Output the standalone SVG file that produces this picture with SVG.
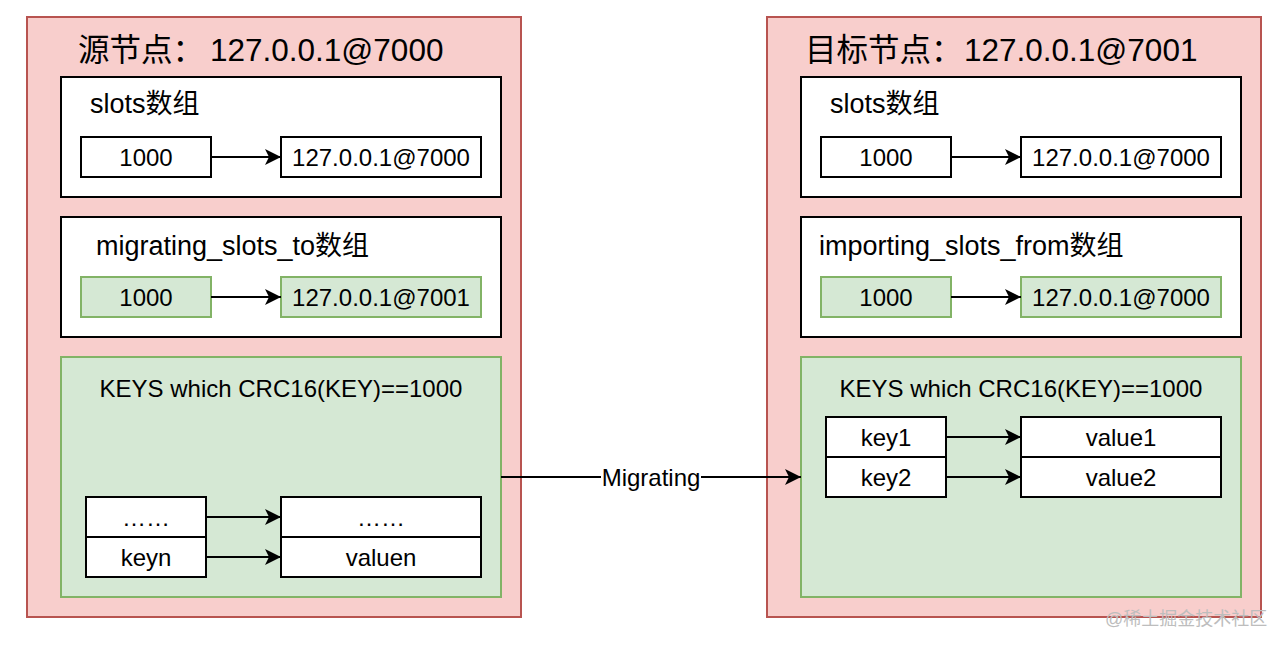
<svg xmlns="http://www.w3.org/2000/svg" width="1286" height="648" viewBox="0 0 1286 648">
<style>
text{font-family:"Liberation Sans","Noto Sans CJK SC",sans-serif;fill:#000}
.outer{fill:#f8cecc;stroke:#b85450;stroke-width:2}
.white{fill:#fff;stroke:#000;stroke-width:2}
.green{fill:#d5e8d4;stroke:#82b366;stroke-width:2}
.title{font-size:31.5px}
.lbl{font-size:27px}
.t{font-size:24px;text-anchor:middle}
.edge{stroke:#000;stroke-width:2;fill:none;marker-end:url(#arr)}
.wm{font-size:18px;fill:#bdbdbd}
</style>
<defs>
<marker id="arr" markerUnits="userSpaceOnUse" markerWidth="18" markerHeight="16" refX="16" refY="8" orient="auto">
<path d="M0,0 L16,8 L0,16 L4,8 z" fill="#000"/>
</marker>
</defs>
<g id="source-node">
<rect class="outer" x="27" y="17" width="494" height="600"/>
<text class="title" x="78" y="61">源节点：<tspan x="210">127.0.0.1@7000</tspan></text>
</g>
<g id="src-slots">
<rect class="white" x="61" y="77" width="440" height="120"/>
<text class="lbl" x="90" y="113">slots数组</text>
</g>
<g id="src-slots-k"><rect class="white" x="81" y="137" width="130" height="40"/><text class="t" x="146" y="166">1000</text></g>
<g id="src-slots-v"><rect class="white" x="281" y="137" width="200" height="40"/><text class="t" x="381" y="166">127.0.0.1@7000</text></g>
<g id="src-migrating">
<rect class="white" x="61" y="217" width="440" height="120"/>
<text class="lbl" x="96" y="255">migrating_slots_to数组</text>
</g>
<g id="src-mig-k"><rect class="green" x="81" y="277" width="130" height="40"/><text class="t" x="146" y="306">1000</text></g>
<g id="src-mig-v"><rect class="green" x="281" y="277" width="200" height="40"/><text class="t" x="381" y="306">127.0.0.1@7001</text></g>
<g id="src-keys">
<rect class="green" x="61" y="357" width="440" height="240"/>
<text class="t" x="281" y="397">KEYS which CRC16(KEY)==1000</text>
</g>
<g id="src-k-dots"><rect class="white" x="86" y="497" width="120" height="40"/><text class="t" x="146" y="526">……</text></g>
<g id="src-k-n"><rect class="white" x="86" y="537" width="120" height="40"/><text class="t" x="146" y="566">keyn</text></g>
<g id="src-v-dots"><rect class="white" x="281" y="497" width="200" height="40"/><text class="t" x="381" y="526">……</text></g>
<g id="src-v-n"><rect class="white" x="281" y="537" width="200" height="40"/><text class="t" x="381" y="566">valuen</text></g>

<g id="target-node">
<rect class="outer" x="767" y="17" width="494" height="600"/>
<text class="title" x="805" y="61">目标节点：<tspan x="964">127.0.0.1@7001</tspan></text>
</g>
<g id="tgt-slots">
<rect class="white" x="801" y="77" width="440" height="120"/>
<text class="lbl" x="830" y="113">slots数组</text>
</g>
<g id="tgt-slots-k"><rect class="white" x="821" y="137" width="130" height="40"/><text class="t" x="886" y="166">1000</text></g>
<g id="tgt-slots-v"><rect class="white" x="1021" y="137" width="200" height="40"/><text class="t" x="1121" y="166">127.0.0.1@7000</text></g>
<g id="tgt-importing">
<rect class="white" x="801" y="217" width="440" height="120"/>
<text class="lbl" x="819" y="255">importing_slots_from数组</text>
</g>
<g id="tgt-imp-k"><rect class="green" x="821" y="277" width="130" height="40"/><text class="t" x="886" y="306">1000</text></g>
<g id="tgt-imp-v"><rect class="green" x="1021" y="277" width="200" height="40"/><text class="t" x="1121" y="306">127.0.0.1@7000</text></g>
<g id="tgt-keys">
<rect class="green" x="801" y="357" width="440" height="240"/>
<text class="t" x="1021" y="397">KEYS which CRC16(KEY)==1000</text>
</g>
<g id="tgt-k1"><rect class="white" x="826" y="417" width="120" height="40"/><text class="t" x="886" y="446">key1</text></g>
<g id="tgt-k2"><rect class="white" x="826" y="457" width="120" height="40"/><text class="t" x="886" y="486">key2</text></g>
<g id="tgt-v1"><rect class="white" x="1021" y="417" width="200" height="40"/><text class="t" x="1121" y="446">value1</text></g>
<g id="tgt-v2"><rect class="white" x="1021" y="457" width="200" height="40"/><text class="t" x="1121" y="486">value2</text></g>

<g id="connectors">
<path class="edge" d="M211,157 H281"/>
<path class="edge" d="M211,297 H281"/>
<path class="edge" d="M206,517 H281"/>
<path class="edge" d="M206,557 H281"/>
<path class="edge" d="M951,157 H1021"/>
<path class="edge" d="M951,297 H1021"/>
<path class="edge" d="M946,437 H1021"/>
<path class="edge" d="M946,477 H1021"/>
<path class="edge" d="M501,477 H801"/>
<rect x="601" y="463" width="100" height="28" fill="#fff"/>
<text class="t" x="651" y="486">Migrating</text>
</g>
<text class="wm" x="1105" y="625">@稀土掘金技术社区</text>
</svg>
